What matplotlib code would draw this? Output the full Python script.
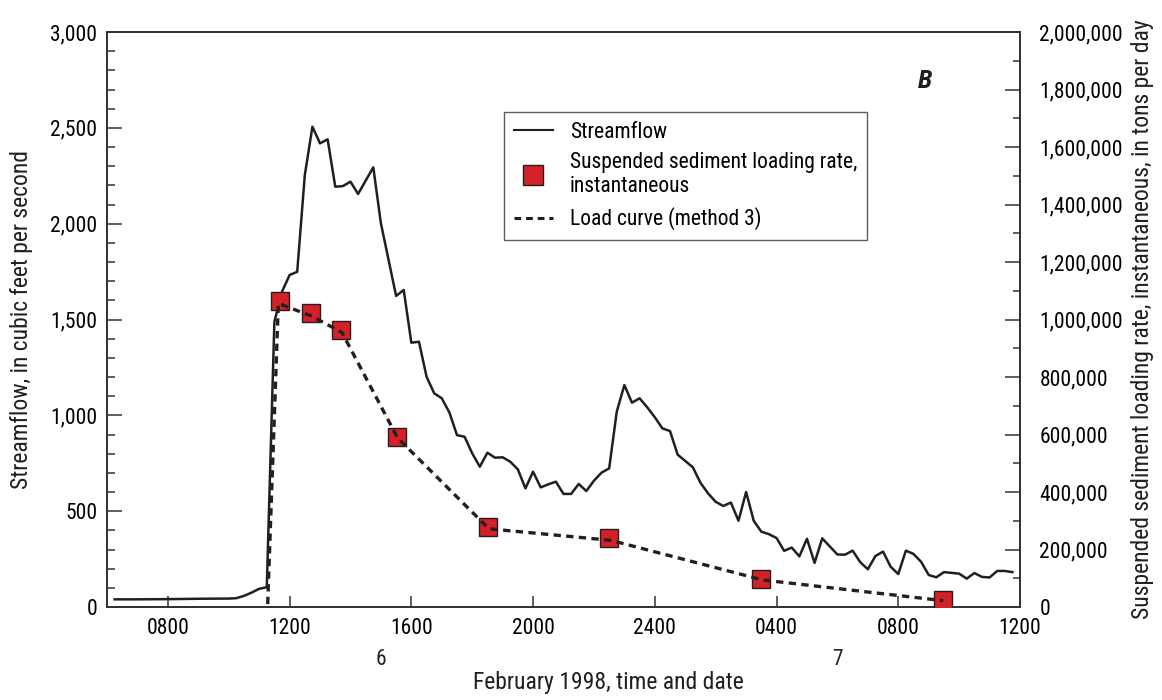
import matplotlib.pyplot as plt
from matplotlib.ticker import MultipleLocator, FuncFormatter
from matplotlib.lines import Line2D

plt.rcParams['font.family'] = ['Roboto Condensed', 'Roboto', 'DejaVu Sans']

# time is hours after 0000, February 6 1998
flow_hours = [6.25, 7.0, 8.0, 9.0, 10.0, 10.25, 10.5, 10.75, 11.0, 11.25,
              11.5, 11.75, 12.0, 12.25, 12.5, 12.75, 13.0, 13.25, 13.5, 13.75,
              14.0, 14.25, 14.75, 15.0, 15.5, 15.75, 16.0, 16.25, 16.5, 16.75,
              17.0, 17.25, 17.5, 17.75, 18.0, 18.25, 18.5, 18.75, 19.0, 19.25,
              19.5, 19.75, 20.0, 20.25, 20.5, 20.75, 21.0, 21.25, 21.5, 21.75,
              22.0, 22.25, 22.5, 22.75, 23.0, 23.25, 23.5, 23.75, 24.0, 24.25,
              24.5, 24.75, 25.0, 25.25, 25.5, 25.75, 26.0, 26.25, 26.5, 26.75,
              27.0, 27.25, 27.5, 27.75, 28.0, 28.25, 28.5, 28.75, 29.0, 29.25,
              29.5, 29.75, 30.0, 30.25, 30.5, 30.75, 31.0, 31.25, 31.5, 31.75,
              32.0, 32.25, 32.5, 32.75, 33.0, 33.25, 33.5, 33.75, 34.0, 34.25,
              34.5, 34.75, 35.0, 35.25, 35.5, 35.75]
flow_cfs = [40, 40, 41, 43, 44, 46, 58, 75, 95, 103,
            1488, 1645, 1732, 1749, 2254, 2506, 2419, 2440, 2193, 2196,
            2219, 2155, 2294, 2002, 1623, 1654, 1379, 1384, 1202, 1115,
            1089, 1015, 897, 888, 802, 732, 805, 779, 781, 758,
            718, 619, 706, 624, 640, 654, 590, 590, 642, 605,
            659, 701, 723, 1019, 1158, 1066, 1089, 1042, 990, 932,
            918, 795, 762, 729, 648, 593, 549, 527, 545, 450,
            600, 450, 393, 380, 360, 293, 310, 264, 356, 230,
            358, 316, 274, 273, 294, 234, 197, 266, 289, 210,
            172, 294, 277, 236, 167, 155, 182, 178, 174, 148,
            177, 157, 154, 188, 188, 182]

sample_hours = [11.69, 12.69, 13.68, 15.52, 18.51, 22.50, 27.49, 33.48]
sample_load = [1064000, 1024000, 963000, 592000, 279000, 239000, 96000, 24000]

curve_hours = [11.28, 11.63, 12.72, 13.72, 15.55, 18.55, 22.55, 27.55, 33.48]
curve_load = [10000, 1056000, 1012000, 955000, 588000, 272000, 232000, 94000, 22000]

tick_hours = [8, 12, 16, 20, 24, 28, 32, 36]
tick_labels = ["0800", "1200", "1600", "2000", "2400", "0400", "0800", "1200"]
day_labels = ["6", "7"]
day_centers = [15, 30]

ink = '#231f20'
edge = '#333333'

fig = plt.figure(figsize=(11.62, 7.0), dpi=100)
ax = fig.add_axes([107 / 1162, 93 / 700, 913 / 1162, 575 / 700])
ax2 = ax.twinx()

ax.plot(flow_hours, flow_cfs, color=ink, lw=1.8)
ax2.plot(sample_hours, sample_load, ls='none', marker='s', ms=13.5,
         mfc='#d42027', mec=ink, mew=1.0, zorder=3)
ax2.plot(curve_hours, curve_load, color=ink, lw=2.4, ls=(0, (2.2, 1.6)), zorder=4)

ax.set_xlim(6, 36)
ax.set_ylim(0, 3000)
ax2.set_ylim(0, 2000000)

ax.set_xticks(tick_hours)
ax.set_xticklabels(tick_labels)
ax.yaxis.set_major_locator(MultipleLocator(500))
ax.yaxis.set_minor_locator(MultipleLocator(100))
ax2.yaxis.set_major_locator(MultipleLocator(200000))
ax2.yaxis.set_minor_locator(MultipleLocator(100000))
comma = FuncFormatter(lambda v, p: f"{int(v):,}")
ax.yaxis.set_major_formatter(comma)
ax2.yaxis.set_major_formatter(comma)

ax.tick_params(axis='y', which='major', direction='in', length=11, width=1.1,
               color=edge, labelsize=15.5, pad=7)
ax.tick_params(axis='y', which='minor', direction='in', length=6, width=1.1, color=edge)
ax.tick_params(axis='x', direction='in', length=8, width=1.1, color=edge,
               labelsize=15.5, pad=8, top=False)
ax2.tick_params(axis='y', which='major', direction='in', length=11, width=1.1,
                color=edge, labelsize=15.5, pad=14)
ax2.tick_params(axis='y', which='minor', direction='in', length=5, width=1.1, color=edge)

for a in (ax, ax2):
    for s in a.spines.values():
        s.set_color(edge)
        s.set_linewidth(1.3)

for lab, h in zip(day_labels, day_centers):
    ax.text(h, -0.092, lab, transform=ax.get_xaxis_transform(),
            ha='center', va='center', fontsize=15.5, color=ink)

ax.set_xlabel("February 1998, time and date", fontsize=17, color=ink)
ax.xaxis.set_label_coords(0.549, -0.111)
ax.set_ylabel("Streamflow, in cubic feet per second", fontsize=17, color=ink, labelpad=12)
ax2.set_ylabel("Suspended sediment loading rate, instantaneous, in tons per day",
               fontsize=17, color=ink, labelpad=6)

ax.text(0.896, 0.915, "B", transform=ax.transAxes, fontsize=19, fontweight='bold',
        fontstyle='italic', ha='center', va='center', color=ink)

handles = [
    Line2D([], [], color=ink, lw=1.5),
    Line2D([], [], ls='none', marker='s', ms=14, mfc='#d42027', mec=ink, mew=1.0),
    Line2D([], [], color=ink, lw=2.2, ls=(0, (2.2, 1.6))),
]
labels = ["Streamflow", "Suspended sediment loading rate,\ninstantaneous",
          "Load curve (method 3)"]
leg = ax2.legend(handles, labels, loc='upper left', bbox_to_anchor=(0.435, 0.861),
                 borderaxespad=0, fontsize=15.5, frameon=True, fancybox=False,
                 edgecolor=edge, handlelength=1.8, handletextpad=0.8,
                 labelspacing=0.45, borderpad=0.45)
leg.get_frame().set_linewidth(1.0)

fig.savefig("out.png", dpi=100)
